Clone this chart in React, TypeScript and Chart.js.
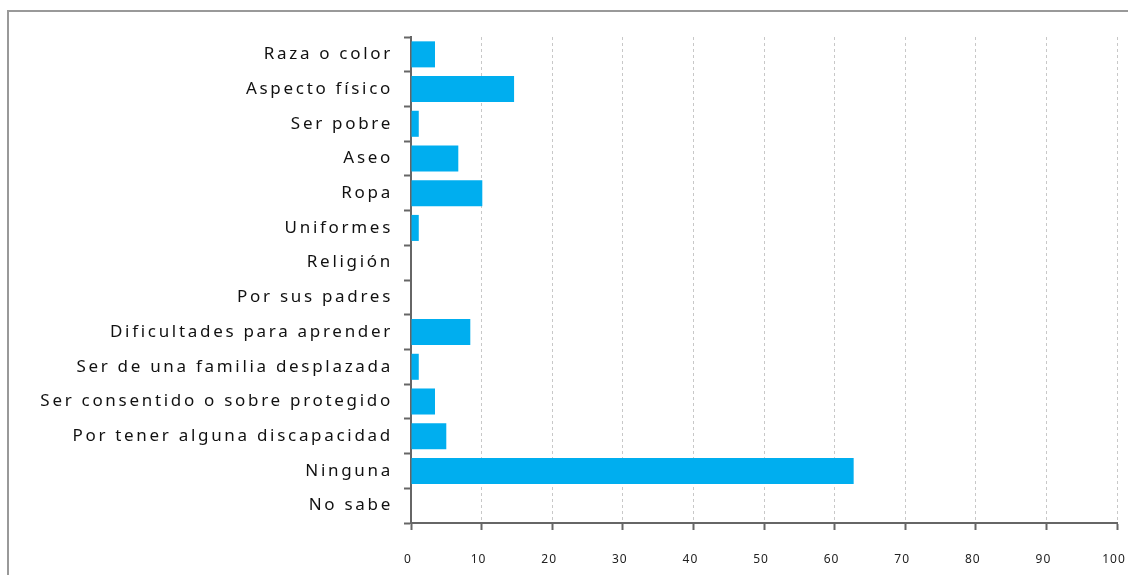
import React, { useEffect, useRef } from "react";
import { Chart, registerables } from "chart.js";

Chart.register(...registerables);

const categories = [
  "Raza o color",
  "Aspecto físico",
  "Ser pobre",
  "Aseo",
  "Ropa",
  "Uniformes",
  "Religión",
  "Por sus padres",
  "Dificultades para aprender",
  "Ser de una familia desplazada",
  "Ser consentido o sobre protegido",
  "Por tener alguna discapacidad",
  "Ninguna",
  "No sabe",
];

const values = [3.4, 14.6, 1.1, 6.7, 10.1, 1.1, 0, 0, 8.4, 1.1, 3.4, 5.0, 62.7, 0];

const xMin = 0;
const xMax = 100;
const xStep = 10;

const FONT = "'Noto Sans', sans-serif";

const spacingPlugin = {
  id: "letterSpacing",
  beforeLayout(chart: any) {
    chart.ctx.letterSpacing = "2.7px";
  },
  beforeDraw(chart: any) {
    chart.ctx.letterSpacing = "2.7px";
  },
};

export default function App() {
  const ref = useRef<HTMLCanvasElement>(null);

  useEffect(() => {
    if (!ref.current) return;
    const chart = new Chart(ref.current, {
      type: "bar",
      data: {
        labels: categories,
        datasets: [
          {
            data: values,
            backgroundColor: "#00AEEF",
            borderWidth: 0,
            barPercentage: 0.75,
            categoryPercentage: 1,
          },
        ],
      },
      plugins: [spacingPlugin],
      options: {
        indexAxis: "y",
        responsive: false,
        animation: false,
        layout: { padding: { top: 37, right: 11, bottom: 0, left: 0 } },
        plugins: {
          legend: { display: false },
          tooltip: { enabled: false },
        },
        scales: {
          x: {
            min: xMin,
            max: xMax,
            ticks: {
              stepSize: xStep,
              color: "#222",
              font: { family: FONT, size: 12 },
              padding: 22,
              labelOffset: -3,
              maxRotation: 0,
            },
            grid: {
              color: "#c8c8c8",
              lineWidth: 1,
              drawTicks: true,
              tickLength: 7,
              tickColor: "#666",
              tickWidth: 2,
              tickBorderDash: [],
            },
            border: { display: true, color: "#666", width: 2, dash: [3, 3] },
            afterFit: (s: any) => {
              s.height = 52;
              s.paddingLeft = 0;
              s.paddingRight = 0;
              if (!s._lsPatched) {
                const orig = s.drawLabels.bind(s);
                s.drawLabels = (area: any) => {
                  s.ctx.save();
                  s.ctx.letterSpacing = "1px";
                  orig(area);
                  s.ctx.restore();
                };
                s._lsPatched = true;
              }
            },
          },
          y: {
            grid: {
              drawOnChartArea: false,
              offset: true,
              tickLength: 7,
              tickColor: "#666",
              tickWidth: 2,
            },
            border: { display: true, color: "#666", width: 2 },
            ticks: {
              color: "#111",
              font: { family: FONT, size: 17 },
              padding: 11,
              autoSkip: false,
            },
            afterFit: (s: any) => {
              s.width = 411;
            },
          },
        },
      },
    } as any);
    return () => chart.destroy();
  }, []);

  return (
    <div style={{ position: "fixed", left: 0, top: 0, width: 1128, height: 575, overflow: "hidden", background: "#fff" }}>
      <div
        style={{
          position: "absolute",
          left: 7,
          top: 10,
          width: 1300,
          height: 800,
          border: "2px solid #999",
        }}
      />
      <canvas
        ref={ref}
        width={1128}
        height={575}
        style={{ position: "absolute", left: 0, top: 0, width: 1128, height: 575 }}
      />
    </div>
  );
}
